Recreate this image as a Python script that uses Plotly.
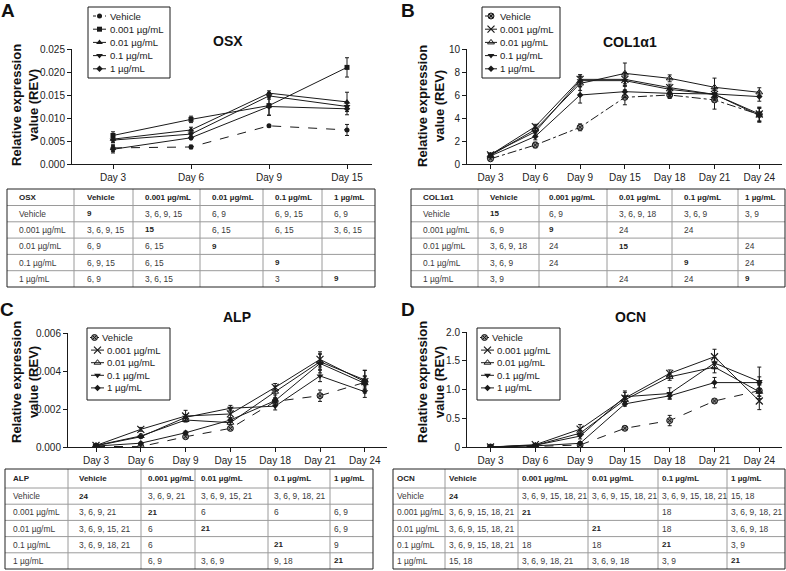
import plotly.graph_objects as go

W, H = 786, 571

# ---------------- data ----------------
groups = ["Vehicle", "0.001 µg/mL", "0.01 µg/mL", "0.1 µg/mL", "1 µg/mL"]
days_osx = ["Day 3", "Day 6", "Day 9", "Day 15"]
days_long = ["Day 3", "Day 6", "Day 9", "Day 15", "Day 18", "Day 21", "Day 24"]

# OSX (panel A)
osx_vehicle = [0.0035, 0.0037, 0.0083, 0.0074]
osx_vehicle_err = [0.0008, 0.0004, 0.0002, 0.0012]
osx_0001 = [0.0062, 0.0097, 0.0127, 0.0210]
osx_0001_err = [0.0008, 0.0007, 0.0021, 0.0021]
osx_001 = [0.0054, 0.0074, 0.0154, 0.0135]
osx_001_err = [0.0006, 0.0006, 0.0005, 0.0021]
osx_01 = [0.0052, 0.0065, 0.0148, 0.0125]
osx_01_err = [0.0005, 0.0005, 0.0007, 0.0006]
osx_1 = [0.0032, 0.0057, 0.0125, 0.0120]
osx_1_err = [0.0008, 0.0004, 0.0019, 0.0013]
osx_ticks = [0.0, 0.005, 0.010, 0.015, 0.020, 0.025]
osx_ticktext = ["0.000", "0.005", "0.010", "0.015", "0.020", "0.025"]

# COL1a1 (panel B)
col_vehicle = [0.45, 1.65, 3.19, 5.80, 6.00, 5.57, 4.30]
col_vehicle_err = [0.10, 0.25, 0.30, 0.65, 0.30, 0.80, 0.60]
col_0001 = [0.80, 3.25, 7.36, 7.36, 6.64, 6.05, 4.35]
col_0001_err = [0.10, 0.20, 0.40, 0.60, 0.30, 0.50, 0.60]
col_001 = [0.75, 3.00, 7.00, 7.88, 7.45, 6.67, 6.23]
col_001_err = [0.10, 0.30, 0.60, 0.90, 0.30, 0.80, 0.40]
col_01 = [0.85, 2.80, 7.25, 7.25, 6.49, 6.05, 4.23]
col_01_err = [0.10, 0.30, 0.50, 0.40, 0.30, 0.40, 0.60]
col_1 = [0.70, 2.40, 6.00, 6.29, 6.14, 6.09, 5.86]
col_1_err = [0.10, 0.30, 0.70, 0.50, 0.30, 0.30, 0.40]
col_ticks = [0, 2, 4, 6, 8, 10]
col_ticktext = ["0", "2", "4", "6", "8", "10"]

# ALP (panel C)
alp_vehicle = [0.00003, 0.00002, 0.00054, 0.00098, 0.00240, 0.00270, 0.00340]
alp_vehicle_err = [0.00003, 0.00002, 0.00006, 0.00005, 0.00015, 0.00030, 0.00030]
alp_0001 = [0.00008, 0.00093, 0.00163, 0.00174, 0.00314, 0.00461, 0.00344]
alp_0001_err = [0.00004, 0.00010, 0.00030, 0.00020, 0.00020, 0.00040, 0.00060]
alp_001 = [0.00008, 0.00058, 0.00142, 0.00128, 0.00291, 0.00449, 0.00353]
alp_001_err = [0.00004, 0.00010, 0.00010, 0.00010, 0.00030, 0.00040, 0.00050]
alp_01 = [0.00006, 0.00054, 0.00156, 0.00204, 0.00215, 0.00374, 0.00291]
alp_01_err = [0.00004, 0.00008, 0.00015, 0.00015, 0.00020, 0.00030, 0.00030]
alp_1 = [0.00005, 0.00020, 0.00075, 0.00142, 0.00244, 0.00440, 0.00335]
alp_1_err = [0.00003, 0.00005, 0.00008, 0.00012, 0.00030, 0.00050, 0.00040]
alp_ticks = [0.0, 0.002, 0.004, 0.006]
alp_ticktext = ["0.000", "0.002", "0.004", "0.006"]

# OCN (panel D)
ocn_vehicle = [0.0, 0.01, 0.035, 0.325, 0.46, 0.80, 0.98]
ocn_vehicle_err = [0.0, 0.01, 0.01, 0.02, 0.09, 0.03, 0.10]
ocn_0001 = [0.0, 0.04, 0.31, 0.85, 1.28, 1.57, 0.80]
ocn_0001_err = [0.0, 0.02, 0.08, 0.10, 0.06, 0.13, 0.15]
ocn_001 = [0.0, 0.03, 0.24, 0.82, 1.22, 1.39, 0.96]
ocn_001_err = [0.0, 0.02, 0.05, 0.06, 0.06, 0.10, 0.12]
ocn_01 = [0.0, 0.03, 0.19, 0.875, 0.93, 1.46, 1.14]
ocn_01_err = [0.0, 0.02, 0.05, 0.10, 0.10, 0.10, 0.25]
ocn_1 = [0.0, 0.02, 0.064, 0.75, 0.89, 1.12, 1.12]
ocn_1_err = [0.0, 0.01, 0.03, 0.04, 0.05, 0.09, 0.10]
ocn_ticks = [0, 0.5, 1.0, 1.5, 2.0]
ocn_ticktext = ["0", "0.5", "1.0", "1.5", "2.0"]

# significance tables (row group vs column group; diagonal printed bold)
osx_table = [
    ["9", "3, 6, 9, 15", "6, 9", "6, 9, 15", "6, 9"],
    ["3, 6, 9, 15", "15", "6, 15", "6, 15", "3, 6, 15"],
    ["6, 9", "6, 15", "9", "", ""],
    ["6, 9, 15", "6, 15", "", "9", ""],
    ["6, 9", "3, 6, 15", "", "3", "9"],
]
col_table = [
    ["15", "6, 9", "3, 6, 9, 18", "3, 6, 9", "3, 9"],
    ["6, 9", "9", "24", "24", ""],
    ["3, 6, 9, 18", "24", "15", "", "24"],
    ["3, 6, 9", "24", "", "9", "24"],
    ["3, 9", "", "24", "24", "9"],
]
alp_table = [
    ["24", "3, 6, 9, 21", "3, 6, 9, 15, 21", "3, 6, 9, 18, 21", ""],
    ["3, 6, 9, 21", "21", "6", "6", "6, 9"],
    ["3, 6, 9, 15, 21", "6", "21", "", "6, 9"],
    ["3, 6, 9, 18, 21", "6", "", "21", "9"],
    ["", "6, 9", "3, 6, 9", "9, 18", "21"],
]
ocn_table = [
    ["24", "3, 6, 9, 15, 18, 21", "3, 6, 9, 15, 18, 21", "3, 6, 9, 15, 18, 21", "15, 18"],
    ["3, 6, 9, 15, 18, 21", "21", "", "18", "3, 6, 9, 18, 21"],
    ["3, 6, 9, 15, 18, 21", "", "21", "18", "3, 6, 9, 18"],
    ["3, 6, 9, 15, 18, 21", "18", "18", "21", "3, 9"],
    ["15, 18", "3, 6, 9, 18, 21", "3, 6, 9, 18", "3, 9", "21"],
]

# ---------------- styling ----------------
FONT = "Liberation Sans, Arial, Helvetica, sans-serif"
INK = "#1a1a1a"

fig = go.Figure()

symbols_a = [
    dict(symbol="circle", size=5, color=INK),
    dict(symbol="square", size=5, color=INK),
    dict(symbol="triangle-up", size=6, color=INK),
    dict(symbol="triangle-down", size=6, color=INK),
    dict(symbol="diamond", size=5, color=INK),
]
symbols_b = [
    dict(symbol="circle-x", size=6, color="#8a8a8a", line=dict(color=INK, width=1)),
    dict(symbol="x-thin", size=7, color=INK, line=dict(color=INK, width=1.2)),
    dict(symbol="triangle-up-open", size=6, color=INK, line=dict(color=INK, width=1)),
    dict(symbol="triangle-down", size=6, color=INK),
    dict(symbol="diamond", size=5, color=INK),
]


def add_series(xname, yname, days, series, errs, syms, vehicle_dash):
    for i, (name, vals, err) in enumerate(zip(groups, series, errs)):
        fig.add_trace(go.Scatter(
            x=days, y=vals, name=name, mode="lines+markers", showlegend=False,
            xaxis=xname, yaxis=yname,
            line=dict(color=INK, width=1, dash=vehicle_dash if i == 0 else "solid"),
            marker=syms[i],
            error_y=dict(type="data", array=err, color=INK, thickness=1, width=2),
        ))


add_series("x", "y", days_osx,
           [osx_vehicle, osx_0001, osx_001, osx_01, osx_1],
           [osx_vehicle_err, osx_0001_err, osx_001_err, osx_01_err, osx_1_err],
           symbols_a, "dash")
add_series("x2", "y2", days_long,
           [col_vehicle, col_0001, col_001, col_01, col_1],
           [col_vehicle_err, col_0001_err, col_001_err, col_01_err, col_1_err],
           symbols_b, "dashdot")
add_series("x3", "y3", days_long,
           [alp_vehicle, alp_0001, alp_001, alp_01, alp_1],
           [alp_vehicle_err, alp_0001_err, alp_001_err, alp_01_err, alp_1_err],
           symbols_b, "dash")
add_series("x4", "y4", days_long,
           [ocn_vehicle, ocn_0001, ocn_001, ocn_01, ocn_1],
           [ocn_vehicle_err, ocn_0001_err, ocn_001_err, ocn_01_err, ocn_1_err],
           symbols_b, "dash")


def px_x(p):
    return min(max(p / W, 0.0), 1.0)


def px_y(p):
    return min(max(1 - p / H, 0.0), 1.0)


axis_common = dict(showline=True, linecolor=INK, linewidth=1, ticks="outside",
                   ticklen=4, tickcolor=INK, tickwidth=1, showgrid=False,
                   zeroline=False, automargin=False, fixedrange=True,
                   tickfont=dict(size=10, color="#222", family=FONT))


def xaxis_cfg(left, right, first, spacing, anchor):
    lo = -(first - left) / spacing
    hi = lo + (right - left) / spacing
    return dict(axis_common, domain=[px_x(left), px_x(right)], anchor=anchor,
                type="category", range=[lo, hi])


def yaxis_cfg(top, bottom, rng, tv, tt, anchor):
    return dict(axis_common, domain=[px_y(bottom), px_y(top)], anchor=anchor,
                range=rng, tickvals=tv, ticktext=tt)


fig.update_layout(
    width=W, height=H, margin=dict(l=0, r=0, t=0, b=0, autoexpand=False),
    paper_bgcolor="white", plot_bgcolor="rgba(0,0,0,0)",
    font=dict(family=FONT, color="#222"), showlegend=False,
    xaxis=xaxis_cfg(72, 372, 113, 78, "y"),
    yaxis=yaxis_cfg(49, 164, [0, 0.025], osx_ticks, osx_ticktext, "x"),
    xaxis2=xaxis_cfg(467, 782, 490.5, 44.8, "y2"),
    yaxis2=yaxis_cfg(49, 164, [0, 10], col_ticks, col_ticktext, "x2"),
    xaxis3=xaxis_cfg(68, 387, 96, 44.8, "y3"),
    yaxis3=yaxis_cfg(333, 447, [0, 0.006], alp_ticks, alp_ticktext, "x3"),
    xaxis4=xaxis_cfg(467, 782, 490.5, 44.8, "y4"),
    yaxis4=yaxis_cfg(332, 447, [0, 2.0], ocn_ticks, ocn_ticktext, "x4"),
    # full-figure pixel overlay used only to place the legend sample glyphs
    xaxis5=dict(domain=[0, 1], range=[0, W], visible=False, anchor="y5",
                fixedrange=True, automargin=False),
    yaxis5=dict(domain=[0, 1], range=[H, 0], visible=False, anchor="x5",
                fixedrange=True, automargin=False),
)

ann = []
shapes = []

# ---------------- panel letters, titles, axis titles ----------------
for letter, (cx, cy) in zip("ABCD", [(8, 10), (408, 10), (7, 309), (408, 309)]):
    ann.append(dict(text="<b>%s</b>" % letter, x=px_x(cx), y=px_y(cy), xref="paper",
                    yref="paper", showarrow=False, xanchor="center", yanchor="middle",
                    font=dict(size=19, family=FONT, color="#111")))
for title, (cx, cy) in zip(["OSX", "COL1α1", "ALP", "OCN"],
                           [(228, 41), (630, 42), (237, 317), (630, 317)]):
    ann.append(dict(text="<b>%s</b>" % title, x=px_x(cx), y=px_y(cy), xref="paper",
                    yref="paper", showarrow=False, xanchor="center", yanchor="middle",
                    font=dict(size=14, family=FONT, color="#111")))
for (cx, cy) in [(25, 105), (431, 106), (25, 382), (431, 382)]:
    ann.append(dict(text="<b>Relative expression<br>value (REV)</b>", textangle=-90,
                    x=px_x(cx), y=px_y(cy), xref="paper", yref="paper", showarrow=False,
                    xanchor="center", yanchor="middle",
                    font=dict(size=13, family=FONT, color="#111")))


# ---------------- legends (box + line sample + glyph + label) ----------------
def add_legend(box, sample, text_x, row_y0, row_step, syms, vehicle_sample, vehicle_text_x):
    l, t, r, b = box
    shapes.append(dict(type="rect", xref="paper", yref="paper", x0=px_x(l), x1=px_x(r),
                       y0=px_y(b), y1=px_y(t), line=dict(color=INK, width=1)))
    for k, name in enumerate(groups):
        yy = row_y0 + row_step * k
        s0, s1 = vehicle_sample if k == 0 else sample
        fig.add_trace(go.Scatter(
            x=[s0, s1], y=[yy, yy], mode="lines", xaxis="x5", yaxis="y5",
            showlegend=False, hoverinfo="skip",
            line=dict(color=INK, width=1, dash="dot" if k == 0 else "solid")))
        fig.add_trace(go.Scatter(
            x=[(s0 + s1) / 2], y=[yy], mode="markers", xaxis="x5",
            yaxis="y5", showlegend=False, hoverinfo="skip", marker=syms[k]))
        tx = vehicle_text_x if k == 0 else text_x
        ann.append(dict(text=name, x=px_x(tx - 2), y=px_y(yy), xref="paper", yref="paper",
                        showarrow=False, xanchor="left", yanchor="middle",
                        font=dict(size=9.6, family=FONT, color="#222")))


add_legend((88, 7, 170, 78), (93, 106), 110, 16, 13.2, symbols_a, (93, 106), 110)
add_legend((482, 7, 560, 78), (485, 497), 500, 16, 13.2, symbols_b, (485, 497), 500)
add_legend((87, 328, 170, 400), (91, 104), 107, 337.5, 12.6, symbols_b, (90, 99), 102)
add_legend((477, 328, 560, 400), (481, 494), 497, 337.5, 12.6, symbols_b, (480, 489), 492)


# ---------------- significance tables ----------------
def add_table(label, rows, col_edges, pads, top, header_h, row_h):
    row_edges = [top, top + header_h] + [top + header_h + row_h * (k + 1) for k in range(5)]
    left, right = col_edges[0], col_edges[-1]
    bottom = row_edges[-1]
    for yy in row_edges[1:-1]:
        shapes.append(dict(type="line", xref="paper", yref="paper", x0=px_x(left),
                           x1=px_x(right), y0=px_y(yy), y1=px_y(yy),
                           line=dict(color="#9a9a9a", width=1)))
    for xx in col_edges[1:-1]:
        shapes.append(dict(type="line", xref="paper", yref="paper", x0=px_x(xx),
                           x1=px_x(xx), y0=px_y(top), y1=px_y(bottom),
                           line=dict(color="#9a9a9a", width=1)))
    shapes.append(dict(type="rect", xref="paper", yref="paper", x0=px_x(left),
                       x1=px_x(right), y0=px_y(bottom), y1=px_y(top),
                       line=dict(color="#222", width=1)))
    header = [label] + groups
    grid = [header] + [[groups[i]] + rows[i] for i in range(5)]
    for i, line in enumerate(grid):
        yc = (row_edges[i] + row_edges[i + 1]) / 2
        for j, val in enumerate(line):
            if val == "":
                continue
            bold = (i == 0) or (i >= 1 and j >= 1 and i == j)
            ann.append(dict(text="<b>%s</b>" % val if bold else val,
                            x=px_x(col_edges[j] + pads[j] - 1), y=px_y(yc),
                            xref="paper", yref="paper", showarrow=False,
                            xanchor="left", yanchor="middle",
                            font=dict(size=8 if bold else 8.4, family=FONT,
                                      color="#222" if bold else "#3a3a3a")))


add_table("OSX", osx_table, [7, 74, 133, 200, 263, 322, 375],
          [11, 12, 11, 11, 11, 11], 189, 16.5, 16.3)
add_table("COL1α1", col_table, [411, 478, 539, 607, 672, 738, 785],
          [11, 11, 9, 11, 11, 6], 189, 16.5, 16.3)
add_table("ALP", alp_table, [5, 68, 141, 195, 268, 330, 373],
          [7, 10, 6, 5, 5, 3], 469, 19, 16.2)
add_table("OCN", ocn_table, [393, 445, 518, 588, 658, 727, 785],
          [3, 3, 3, 3, 3, 3], 469, 19, 16.2)

fig.update_layout(annotations=ann, shapes=shapes)

fig.write_html(
    "out.html",
    config={"displayModeBar": False},
    post_script="document.body.style.margin='0';document.body.style.padding='0';"
                "document.body.style.overflow='hidden';",
)
